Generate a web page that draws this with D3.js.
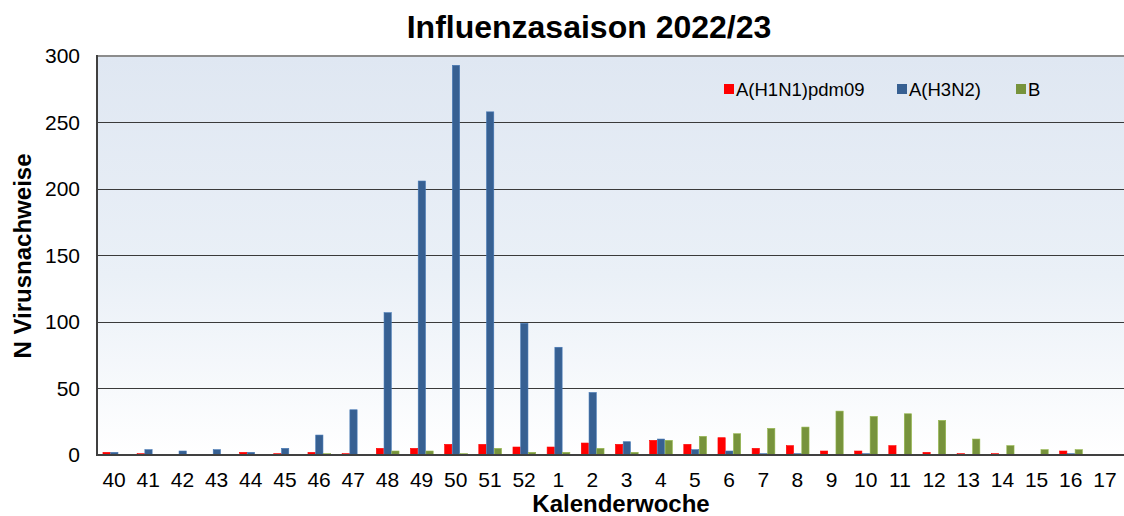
<!DOCTYPE html>
<html><head><meta charset="utf-8">
<script src="https://cdn.jsdelivr.net/npm/d3@7"></script>
<style>body{margin:0;background:#fff}svg{display:block;font-family:"Liberation Sans",Arial,sans-serif}</style>
</head><body>
<svg id="c" width="1124" height="516"></svg>
<script>
const weeks = ["40","41","42","43","44","45","46","47","48","49","50","51","52","1","2","3","4","5","6","7","8","9","10","11","12","13","14","15","16","17"];
const h1n1 = [2,1,0,0,2,1,2,1,5,5,8,8,6,6,9,8,11,8,13,5,7,3,3,7,2,1,1,0,3,0];
const h3n2 = [2,4,3,4,2,5,15,34,107,206,293,258,99,81,47,10,12,4,3,1,1,0,1,0,0,0,0,0,1,0];
const bVals = [0,0,0,0,0,0,1,0,3,3,1,5,2,2,5,2,11,14,16,20,21,33,29,31,26,12,7,4,4,0];
const seriesNames = ["A(H1N1)pdm09","A(H3N2)","B"];
const colors = ["#ff0000","#376092","#77933c"];
const yTicks = [0,50,100,150,200,250,300];

const svg = d3.select("#c");
const m = {l:97, r:1124, t:56, b:455};
const x = d3.scaleBand().domain(weeks).range([m.l, 1122]).paddingInner(0.32).paddingOuter(0.16);
const xs = d3.scaleBand().domain(seriesNames).range([0, x.bandwidth()]);
const y = d3.scaleLinear().domain([0,300]).range([m.b, m.t]);

const defs = svg.append("defs");
const g = defs.append("linearGradient").attr("id","bg").attr("x1",0).attr("y1",0).attr("x2",0).attr("y2",1);
g.append("stop").attr("offset","0%").attr("stop-color","#dfe7f2");
g.append("stop").attr("offset","55%").attr("stop-color","#eaf0f7");
g.append("stop").attr("offset","100%").attr("stop-color","#ffffff");
svg.append("rect").attr("x",m.l).attr("y",m.t).attr("width",m.r-m.l).attr("height",m.b-m.t).attr("fill","url(#bg)");

// gridlines
svg.append("g").selectAll("line").data(yTicks.filter(d=>d>0)).join("line")
  .attr("x1",m.l).attr("x2",m.r).attr("y1",d=>y(d)).attr("y2",d=>y(d))
  .attr("stroke",d=>d===300?"#8c8c8c":"#3a3a3a").attr("stroke-width",d=>d===300?2:1).attr("shape-rendering","crispEdges");

// bars
const data = [h1n1,h3n2,bVals];
data.forEach((vals,si)=>{
  svg.append("g").selectAll("rect").data(vals).join("rect")
    .attr("x",(d,i)=>x(weeks[i])+xs(seriesNames[si])+0.5)
    .attr("width",xs.bandwidth()-0.5)
    .attr("y",d=>y(d))
    .attr("height",d=>y(0)-y(d))
    .attr("fill",colors[si])
    .attr("stroke",d3.color(colors[si]).brighter(0.6))
    .attr("stroke-width",0.6);
});

// axes
svg.append("line").attr("x1",m.l).attr("x2",m.l).attr("y1",m.t-1).attr("y2",m.b+1).attr("stroke","#404040").attr("stroke-width",2);
svg.append("line").attr("x1",m.l-1).attr("x2",m.r).attr("y1",m.b).attr("y2",m.b).attr("stroke","#404040").attr("stroke-width",2);

const yAxis = svg.append("g").attr("transform",`translate(${m.l},0)`)
  .call(d3.axisLeft(y).tickValues(yTicks).tickSize(0).tickPadding(17));
yAxis.select(".domain").remove();
yAxis.selectAll("text").attr("font-size",21).attr("fill","#000").attr("font-family","Liberation Sans, Arial, sans-serif");

const xAxis = svg.append("g").attr("transform",`translate(0,${m.b})`)
  .call(d3.axisBottom(x).tickSize(0).tickPadding(17));
xAxis.select(".domain").remove();
xAxis.selectAll("text").attr("font-size",21).attr("fill","#000").attr("font-family","Liberation Sans, Arial, sans-serif");

// titles
svg.append("text").attr("x",589).attr("y",38).attr("text-anchor","middle").attr("font-size",32).attr("font-weight","bold").text("Influenzasaison 2022/23");
svg.append("text").attr("x",621).attr("y",512).attr("text-anchor","middle").attr("font-size",24).attr("font-weight","bold").text("Kalenderwoche");
svg.append("text").attr("transform","translate(31,256) rotate(-90)").attr("text-anchor","middle").attr("font-size",24).attr("font-weight","bold").text("N Virusnachweise");

// legend
const legX = [724,897,1016];
seriesNames.forEach((n,i)=>{
  svg.append("rect").attr("x",legX[i]).attr("y",84).attr("width",10).attr("height",10).attr("fill",colors[i]);
  svg.append("text").attr("x",legX[i]+12).attr("y",96).attr("font-size",18.5).attr("fill","#000").text(n);
});
</script>
</body></html>
